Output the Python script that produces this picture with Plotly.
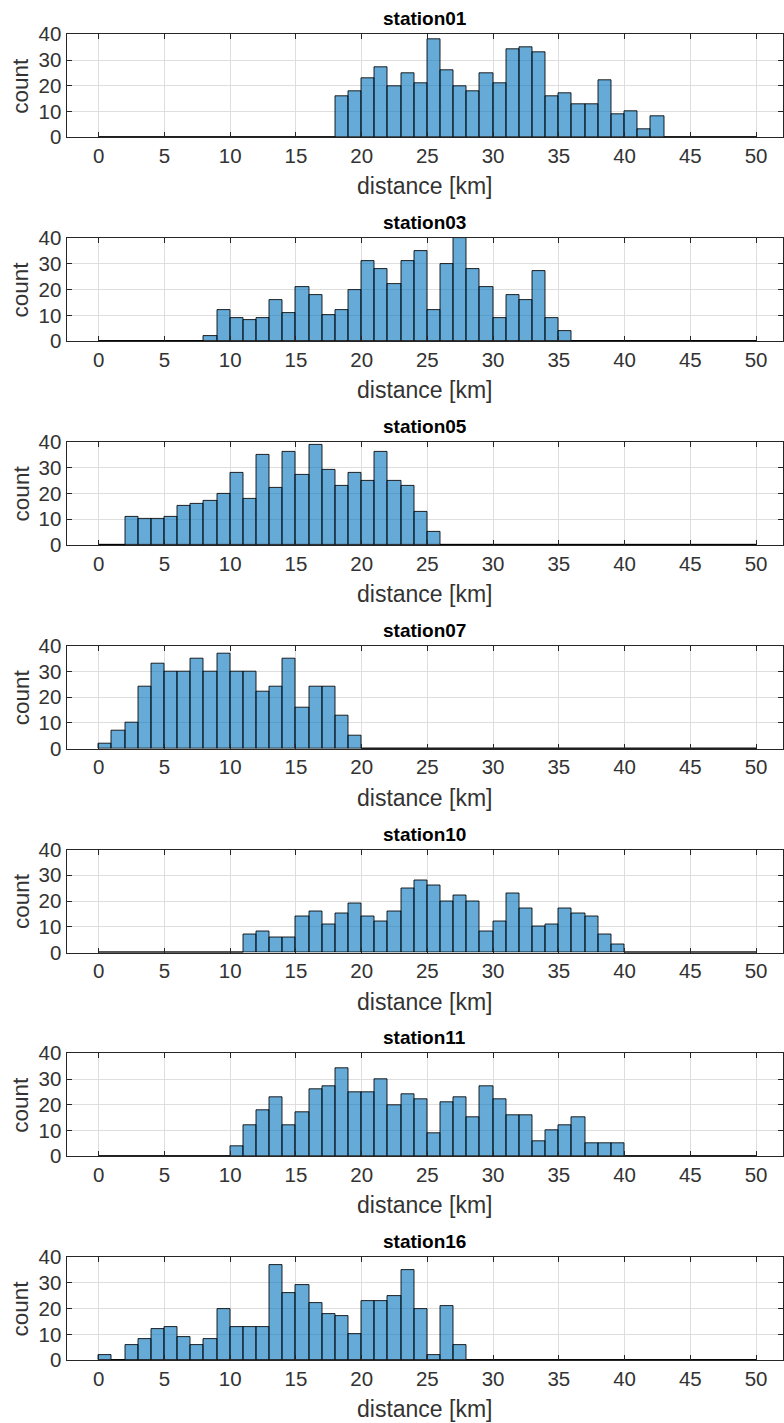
import plotly.graph_objects as go

stations = ["station01", "station03", "station05", "station07", "station10", "station11", "station16"]
bin_edges = list(range(0, 51))  # 1 km bins, 0..50 km

# counts per 1-km bin, given as {bin_start: count}; all other bins are 0
station01 = {18: 16, 19: 18, 20: 23, 21: 27, 22: 20, 23: 25, 24: 21, 25: 38, 26: 26, 27: 20,
             28: 18, 29: 25, 30: 21, 31: 34, 32: 35, 33: 33, 34: 16, 35: 17, 36: 13, 37: 13,
             38: 22, 39: 9, 40: 10, 41: 3, 42: 8}
station03 = {8: 2, 9: 12, 10: 9, 11: 8, 12: 9, 13: 16, 14: 11, 15: 21, 16: 18, 17: 10,
             18: 12, 19: 20, 20: 31, 21: 28, 22: 22, 23: 31, 24: 35, 25: 12, 26: 30, 27: 40,
             28: 28, 29: 21, 30: 9, 31: 18, 32: 16, 33: 27, 34: 9, 35: 4}
station05 = {2: 11, 3: 10, 4: 10, 5: 11, 6: 15, 7: 16, 8: 17, 9: 20, 10: 28, 11: 18,
             12: 35, 13: 22, 14: 36, 15: 27, 16: 39, 17: 29, 18: 23, 19: 28, 20: 25, 21: 36,
             22: 25, 23: 23, 24: 13, 25: 5}
station07 = {0: 2, 1: 7, 2: 10, 3: 24, 4: 33, 5: 30, 6: 30, 7: 35, 8: 30, 9: 37, 10: 30,
             11: 30, 12: 22, 13: 24, 14: 35, 15: 16, 16: 24, 17: 24, 18: 13, 19: 5}
station10 = {11: 7, 12: 8, 13: 6, 14: 6, 15: 14, 16: 16, 17: 11, 18: 15, 19: 19, 20: 14,
             21: 12, 22: 16, 23: 25, 24: 28, 25: 26, 26: 20, 27: 22, 28: 20, 29: 8, 30: 12,
             31: 23, 32: 17, 33: 10, 34: 11, 35: 17, 36: 15, 37: 14, 38: 7, 39: 3}
station11 = {10: 4, 11: 12, 12: 18, 13: 23, 14: 12, 15: 17, 16: 26, 17: 27, 18: 34, 19: 25,
             20: 25, 21: 30, 22: 20, 23: 24, 24: 22, 25: 9, 26: 21, 27: 23, 28: 15, 29: 27,
             30: 22, 31: 16, 32: 16, 33: 6, 34: 10, 35: 12, 36: 15, 37: 5, 38: 5, 39: 5}
station16 = {0: 2, 1: 0, 2: 6, 3: 8, 4: 12, 5: 13, 6: 9, 7: 6, 8: 8, 9: 20, 10: 13,
             11: 13, 12: 13, 13: 37, 14: 26, 15: 29, 16: 22, 17: 18, 18: 17, 19: 10, 20: 23,
             21: 23, 22: 25, 23: 35, 24: 20, 25: 2, 26: 21, 27: 6}
all_counts = [station01, station03, station05, station07, station10, station11, station16]

x_ticks = list(range(0, 51, 5))
y_ticks = [0, 10, 20, 30, 40]

W, H = 784, 1423
left_px, right_px = 66.5, 783.0
top0, step, plot_h = 34.3, 203.8, 103.0

FONT = "Liberation Sans, Arial, Helvetica, sans-serif"
TXT = "#333333"
BAR_FILL = "rgba(0,114,189,0.6)"

fig = go.Figure()
annotations = []
for i, (name, cnt) in enumerate(zip(stations, all_counts)):
    k = i + 1
    xa = "x" if k == 1 else f"x{k}"
    ya = "y" if k == 1 else f"y{k}"
    starts = bin_edges[:-1]
    counts = [cnt.get(b, 0) for b in starts]
    centers = [b + 0.5 for b in starts]
    fig.add_trace(go.Bar(x=centers, y=counts, width=1.0, xaxis=xa, yaxis=ya,
                         marker=dict(color=BAR_FILL, line=dict(color="rgba(0,0,0,0.85)", width=1)),
                         showlegend=False, hoverinfo="x+y"))
    # zero-height bins drawn as flat outlines (as in the reference)
    zx, zy = [], []
    for b, c in zip(starts, counts):
        if c == 0:
            zx += [b, b + 1, None]
            zy += [0, 0, None]
    fig.add_trace(go.Scatter(x=zx, y=zy, mode="lines", xaxis=xa, yaxis=ya,
                             line=dict(color="rgba(0,0,0,0.85)", width=1.2),
                             showlegend=False, hoverinfo="skip"))
    top = top0 + i * step
    bot = top + plot_h
    dom_y = [1 - bot / H, 1 - top / H]
    axis_common = dict(showline=True, linecolor="#262626", linewidth=1, mirror="allticks",
                       ticks="inside", ticklen=5, tickcolor="#262626", showgrid=True,
                       gridcolor="#dedede", gridwidth=1, zeroline=False, automargin=False,
                       tickfont=dict(family=FONT, size=20.5, color=TXT))
    fig.update_layout(**{
        ("xaxis" if k == 1 else f"xaxis{k}"): dict(
            domain=[left_px / W, right_px / W], range=[-2.45, 52.05], anchor=ya,
            tickvals=x_ticks, ticktext=[str(v) for v in x_ticks], **axis_common),
        ("yaxis" if k == 1 else f"yaxis{k}"): dict(
            domain=dom_y, range=[0, 40], anchor=xa,
            tickvals=y_ticks, ticktext=[str(v) for v in y_ticks], **axis_common),
    })
    cx = (left_px + right_px) / 2
    annotations.append(dict(text=f"<b>{name}</b>", x=cx / W, y=1 - (top - 15.5) / H,
                            xref="paper", yref="paper", showarrow=False,
                            font=dict(family=FONT, size=19, color="#000000"),
                            xanchor="center", yanchor="middle"))
    annotations.append(dict(text="distance [km]", x=cx / W, y=1 - (bot + 49) / H,
                            xref="paper", yref="paper", showarrow=False,
                            font=dict(family=FONT, size=23, color=TXT),
                            xanchor="center", yanchor="middle"))
    annotations.append(dict(text="count", x=21 / W, y=1 - ((top + bot) / 2) / H,
                            xref="paper", yref="paper", showarrow=False, textangle=-90,
                            font=dict(family=FONT, size=22.5, color=TXT),
                            xanchor="center", yanchor="middle"))

fig.update_layout(width=W, height=H,
                  margin=dict(l=0, r=0, t=0, b=0, pad=0, autoexpand=False),
                  paper_bgcolor="white", plot_bgcolor="white", bargap=0,
                  annotations=annotations, font=dict(family=FONT))
fig.write_html("out.html",
               post_script="document.body.style.margin='0';document.body.style.overflow='hidden';")
